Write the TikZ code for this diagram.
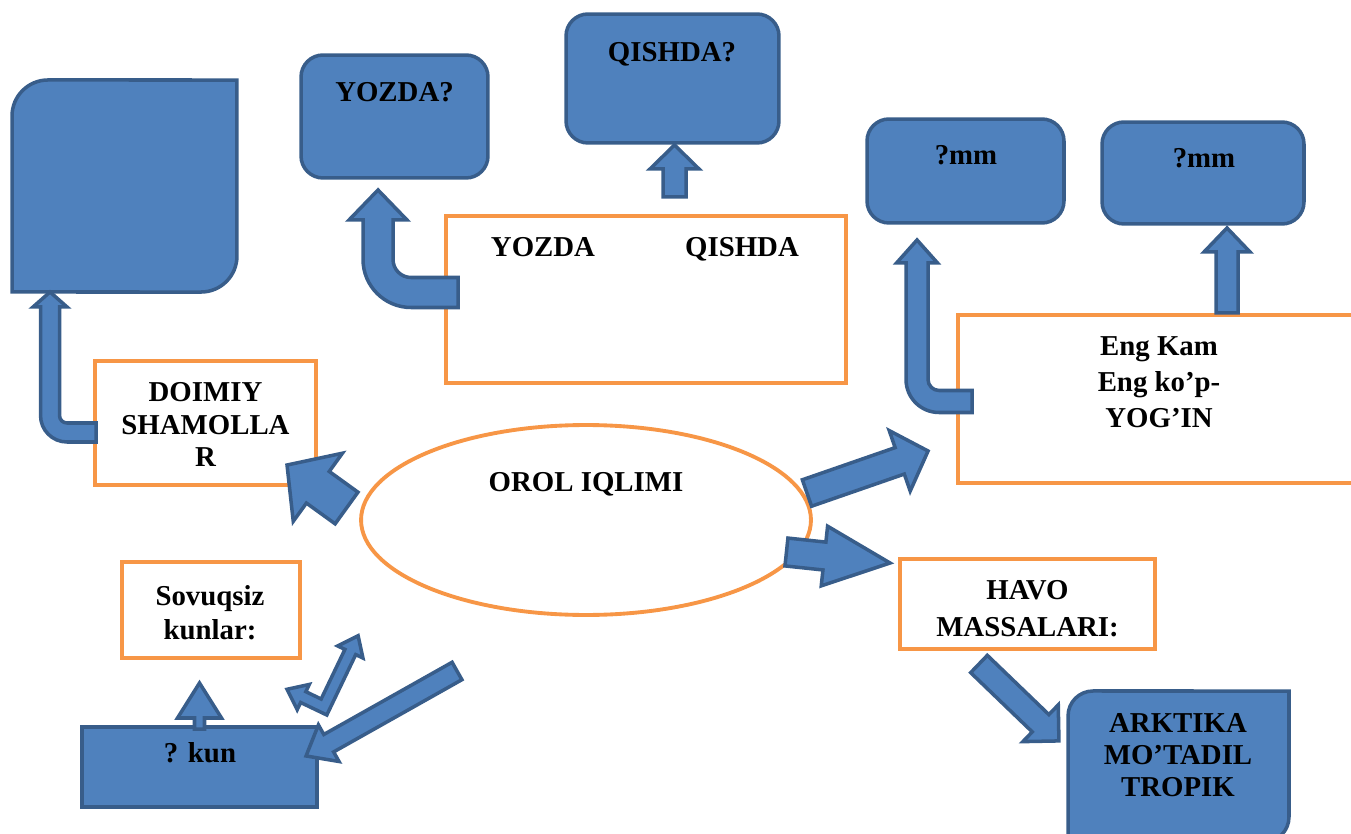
\documentclass[tikz,border=0pt]{standalone}
\usepackage{fontspec}
\setmainfont{Liberation Serif}
\usetikzlibrary{calc,shapes.geometric}

\definecolor{bluefill}{HTML}{4F81BD}
\definecolor{blueline}{HTML}{385D8A}
\definecolor{orangeline}{HTML}{F79646}

\tikzset{
  bluerect/.style={draw=blueline, fill=bluefill, line width=2pt, inner sep=0pt, outer sep=0pt},
  bluebox/.style={bluerect, rounded corners=0.44cm},
  orangebox/.style={draw=orangeline, fill=white, line width=2.2pt, inner sep=0pt, outer sep=0pt},
  blockarrow/.style={draw=blueline, fill=bluefill, line width=2pt},
  lbl/.style={font=\bfseries\fontsize{16.4}{18.5}\selectfont, align=center, inner sep=0pt, text depth=0pt}
}

% straight block arrow: from, to, shaft half width, head half width, head length (px)
\newcommand{\blockarrow}[5]{%
  \path let \p1=($(#2)-(#1)$) in \pgfextra{%
    \pgfmathparse{atan2(\y1,\x1)}\xdef\arrang{\pgfmathresult}%
    \pgfmathparse{veclen(\x1,\y1)/0.569055}\xdef\arrlen{\pgfmathresult}};
  \draw[blockarrow, shift={(#1)}, rotate=\arrang, x=0.02cm, y=0.02cm]
    (0,-#3) -- ({\arrlen-#5},-#3) -- ({\arrlen-#5},-#4) -- (\arrlen,0)
    -- ({\arrlen-#5},#4) -- ({\arrlen-#5},#3) -- (0,#3) -- cycle;
}

% bent block arrow, comes in from the right and turns up:
% from, tip, shaft half width, head half width, head length, bend radius (px)
\newcommand{\bentarrow}[6]{%
  \draw[blockarrow] let \p1=(#1), \p2=(#2), \n1={#3*0.02cm}, \n2={#4*0.02cm},
      \n3={#5*0.02cm}, \n4={#6*0.02cm} in
    (\x1,\y1+\n1) -- (\x2+\n4,\y1+\n1)
    arc[start angle=270, end angle=180, radius=\n4-\n1]
    -- (\x2+\n1,\y2-\n3) -- (\x2+\n2,\y2-\n3) -- (\x2,\y2)
    -- (\x2-\n2,\y2-\n3) -- (\x2-\n1,\y2-\n3) -- (\x2-\n1,\y1+\n4)
    arc[start angle=180, end angle=270, radius=\n4+\n1]
    -- (\x1,\y1-\n1) -- cycle;
}

\begin{document}
\begin{tikzpicture}[x=0.02cm, y=-0.02cm]
\useasboundingbox (0,0) rectangle (1351,834);

% boxes
\node[inner sep=0pt, outer sep=0pt, minimum width=4.5cm, minimum height=4.24cm] (wind) at (124.5,186) {};
\draw[bluerect] (wind.south west) -- ++(0,-176) arc[start angle=180, end angle=270, radius=36]
  -- (wind.north east) -- ++(0,176) arc[start angle=0, end angle=90, radius=36] -- cycle;
\node[bluebox, minimum width=3.74cm, minimum height=2.46cm] (yozq) at (394.5,116.5) {};
\node[bluebox, minimum width=4.26cm, minimum height=2.58cm] (qishq) at (672.5,78.5) {};
\node[bluebox, minimum width=3.94cm, minimum height=2.08cm] (mm1) at (965.5,171) {};
\node[bluebox, minimum width=4.04cm, minimum height=2.04cm] (mm2) at (1203,173) {};
\node[orangebox, minimum width=8cm, minimum height=3.34cm] (fasl) at (646,299.5) {};
\node[orangebox, minimum width=8.14cm, minimum height=3.36cm] (yogin) at (1161.5,399) {};
\node[orangebox, minimum width=4.42cm, minimum height=2.48cm] (shamol) at (205.5,423) {};
\node[orangebox, ellipse, minimum width=9cm, minimum height=3.8cm] (orol) at (586,520) {};
\node[orangebox, minimum width=3.56cm, minimum height=1.92cm] (sovuq) at (211,610) {};
\node[bluerect, minimum width=4.7cm, minimum height=1.6cm] (kun) at (199.5,767) {};
\node[orangebox, minimum width=5.1cm, minimum height=1.8cm] (havo) at (1027.5,604) {};
\node[inner sep=0pt, outer sep=0pt, minimum width=4.42cm, minimum height=3.02cm] (arktika) at (1178.5,766.5) {};
\draw[bluerect] (arktika.south west) -- ++(0,-126) arc[start angle=180, end angle=270, radius=25]
  -- (arktika.north east) -- ++(0,126) arc[start angle=0, end angle=90, radius=25] -- cycle;

% arrow ends
\coordinate (a1) at ($(shamol.west)+(1,9.5)$);
\coordinate (a2) at ($(wind.south west)+(38,0)$);
\coordinate (b1) at ($(fasl.west)+(12,-7)$);
\coordinate (b2) at ($(yozq.south west)+(77,12)$);
\coordinate (c1) at ($(yogin.west)+(14,2.5)$);
\coordinate (c2) at ($(mm1.south west)+(50,17)$);
\coordinate (d1) at ($(qishq.south)+(2,54)$);
\coordinate (d2) at ($(qishq.south)+(2,2)$);
\coordinate (e1) at ($(mm2.south)+(24,89)$);
\coordinate (e2) at ($(mm2.south)+(24,4)$);
\coordinate (f1) at ($(kun.north)+(0,2)$);
\coordinate (f2) at ($(kun.north)+(0,-44)$);
\coordinate (g0) at ($(kun.north east)+(7,-20)$);
\coordinate (h1) at ($(orol.west)+(-14.5,-12)$);
\coordinate (h2) at ($(shamol.south east)+(-29,-20)$);
\coordinate (i1) at ($(orol.south)+(-129,56)$);
\coordinate (i2) at ($(kun.east)+(-11,-11)$);
\coordinate (j1) at ($(orol.east)+(-4,-27)$);
\coordinate (j2) at ($(yogin.west)+(-30,52)$);
\coordinate (k1) at ($(orol.east)+(-24.5,32)$);
\coordinate (k2) at ($(havo.west)+(-10,-41)$);
\coordinate (l1) at ($(havo.south)+(-48.5,15)$);
\coordinate (l2) at ($(arktika.west)+(-9,-25.5)$);

% arrows
\bentarrow{a1}{a2}{9.5}{17}{15}{17}
\bentarrow{b1}{b2}{15}{29}{30}{33}
\bentarrow{c1}{c2}{11}{20.5}{23}{22}
\blockarrow{d1}{d2}{11.5}{24.5}{24}
\blockarrow{e1}{e2}{11}{23}{24}
\blockarrow{f1}{f2}{5}{22}{35}
\blockarrow{h1}{h2}{19.5}{42}{38}
\blockarrow{i1}{i2}{10}{21}{26}
\blockarrow{j1}{j2}{14}{32}{30}
\blockarrow{k1}{k2}{14}{30}{66}
\blockarrow{l1}{l2}{12}{25.5}{25.5}
\begin{scope}[shift={(g0)}, rotate=64.4, x=0.02cm, y=0.02cm]
  \draw[blockarrow] (79,0) -- (61,14) -- (61,6) -- (6,6) -- (6,23) -- (14,23) -- (0,41)
    -- (-14,23) -- (-6,23) -- (-6,-6) -- (61,-6) -- (61,-14) -- cycle;
\end{scope}

% texts
\node[lbl] (yozqt) at (394.5,92) {YOZDA?};
\node[lbl] (qishqt) at (672,52) {QISHDA?};
\node[lbl] (mm1t) at (966,155) {?mm};
\node[lbl] (mm2t) at (1204,158) {?mm};
\node[lbl] (faslyt) at (543,247) {YOZDA};
\node[lbl] (faslqt) at (742,247) {QISHDA};
\node[lbl, font=\bfseries\fontsize{16.4}{20.5}\selectfont] (yogint) at (1159,382.5) {Eng Kam\\Eng ko’p-\\YOG’IN};
\node[lbl] (shamolt) at (205.5,424.5) {DOIMIY\\SHAMOLLA\\R};
\node[lbl] (orolt) at (586,482) {OROL IQLIMI};
\node[lbl, font=\bfseries\fontsize{16.4}{19.9}\selectfont] (sovuqt) at (210,612.5) {Sovuqsiz\\kunlar:};
\node[lbl] (kunt) at (200,752.5) {? kun};
\node[lbl, font=\bfseries\fontsize{16.4}{21}\selectfont] (havot) at (1027.5,608.5) {HAVO\\MASSALARI:};
\node[lbl, font=\bfseries\fontsize{16.4}{18.2}\selectfont] (arktikat) at (1178,755) {ARKTIKA\\MO’TADIL\\TROPIK};
\end{tikzpicture}
\end{document}
